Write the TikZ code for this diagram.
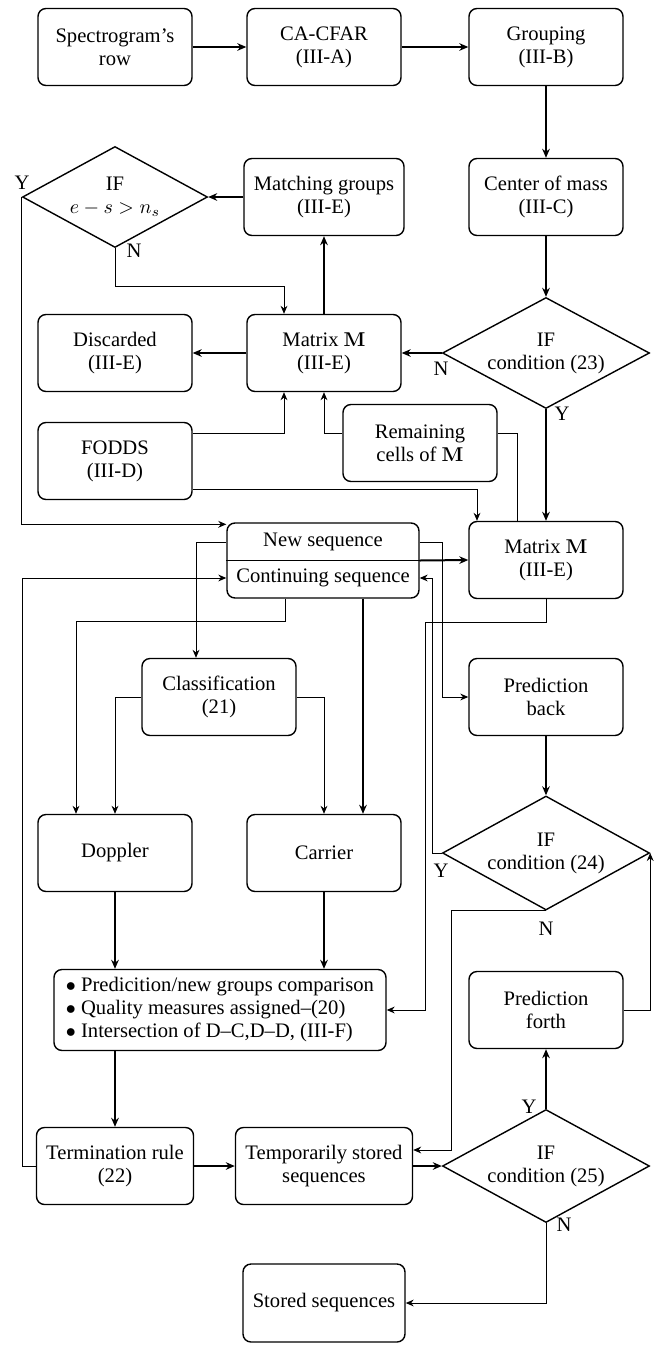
\documentclass[tikz,border=0pt]{standalone}
\usepackage[no-math]{fontspec}
\setmainfont{Liberation Serif}
\usetikzlibrary{shapes.geometric,arrows.meta,calc}
\begin{document}
\begin{tikzpicture}[x=0.5pt,y=-0.5pt,
  box/.style={draw,line width=0.7pt,rounded corners=4pt,minimum width=77pt,minimum height=38.5pt,align=center,inner sep=1pt,font=\fontsize{10.3}{11.5}\selectfont},
  dia/.style={draw,line width=0.7pt,diamond,inner sep=0pt},
  txt/.style={align=center,font=\fontsize{10.3}{11.5}\selectfont,inner sep=0pt},
  lab/.style={font=\fontsize{10.3}{11.5}\selectfont,inner sep=0pt},
  tarr/.style={line width=0.5pt,-{Stealth[length=4pt,width=3.4pt]}},
  Tarr/.style={line width=1pt,-{Stealth[length=4.5pt,width=3.8pt]}},
  tline/.style={line width=0.5pt},
]
\useasboundingbox (0,0) rectangle (661,1345);

% lanes
\coordinate (L21) at (22,0);
\coordinate (L76) at (76,0);
\coordinate (L197) at (196,0);
\coordinate (L284) at (284,0);
\coordinate (L285) at (285,0);
\coordinate (L363) at (363,0);
\coordinate (L425) at (425,0);
\coordinate (L432) at (432,0);
\coordinate (L442) at (442,0);
\coordinate (L451) at (451,0);
\coordinate (L476) at (477,0);
\coordinate (L516) at (517,0);

% nodes
\node[box] (spec) at (115,47) {Spectrogram’s\\row};
\node[box] (cfar) at (324,47) {CA-CFAR\\(III-A)};
\node[box] (grp) at (546,47) {Grouping\\(III-B)};

\node[dia,minimum width=92.5pt,minimum height=50.5pt] (dif) at (115,197) {};
\node[txt] (diftxt) at (115,197) {IF\\$e-s>n_s$};
\node[box,minimum width=80pt] (mg) at (324,197) {Matching groups\\(III-E)};
\node[box] (com) at (546,197) {Center of mass\\(III-C)};

\node[box] (disc) at (115,353) {Discarded\\(III-E)};
\node[box] (mm1) at (324,353) {Matrix $\mathbf{M}$\\(III-E)};
\node[dia,minimum width=103.5pt,minimum height=55.5pt] (d23) at (546,353) {};
\node[txt] (d23txt) at (546,353) {IF\\condition (23)};

\node[box] (fodds) at (115,461) {FODDS\\(III-D)};
\node[box] (rem) at (420,443) {Remaining\\cells of $\mathbf{M}$};

\node[box,minimum width=96pt,minimum height=37.5pt] (seq) at (323,560.5) {};
\node[txt] (newseq) at (323,542) {New sequence};
\node[txt] (contseq) at (323,578) {Continuing sequence};
\node[box] (mm2) at (546,560) {Matrix $\mathbf{M}$\\(III-E)};

\node[box] (cls) at (219,697) {Classification\\(21)};
\node[box] (pb) at (546,697) {Prediction\\back};

\node[box] (dop) at (115,853) {Doppler};
\node[box] (car) at (324,853) {Carrier};
\node[dia,minimum width=103.5pt,minimum height=57pt] (d24) at (546,853) {};
\node[txt] (d24txt) at (546,853) {IF\\condition (24)};

\node[box,minimum width=166pt,minimum height=40.5pt,align=left] (bul) at (220,1010) {$\bullet$ Predicition/new groups comparison\\$\bullet$ Quality measures assigned--(20)\\$\bullet$ Intersection of D--C,D--D, (III-F)};
\node[box] (pf) at (546,1010) {Prediction\\forth};

\node[box,minimum width=78.5pt] (term) at (115,1166) {Termination rule\\(22)};
\node[box,minimum width=88.5pt] (tmp) at (324,1166) {Temporarily stored\\sequences};
\node[dia,minimum width=103.5pt,minimum height=56.5pt] (d25) at (546,1166) {};
\node[txt] (d25txt) at (546,1166) {IF\\condition (25)};

\node[box,minimum width=81pt,minimum height=39pt] (sto) at (324,1303) {Stored sequences};

\draw[line width=0.7pt] (seq.west) -- (seq.east);

% labels
\node[lab] (ydif) at (22,183) {Y};
\node[lab] (ndif) at (134,251) {N};
\node[lab] (n23) at (441,369) {N};
\node[lab] (y23) at (562,414) {Y};
\node[lab] (y24) at (441,871) {Y};
\node[lab] (n24) at (546,929) {N};
\node[lab] (y25) at (529,1107) {Y};
\node[lab] (n25) at (564,1225) {N};

% thick connectors
\draw[Tarr] (spec) -- (cfar);
\draw[Tarr] (cfar) -- (grp);
\draw[Tarr] (grp) -- (com);
\draw[Tarr] (com) -- (d23);
\draw[Tarr] (d23.west) -- (mm1.east);
\draw[Tarr] (d23.south) -- (mm2.north);
\draw[Tarr] (mm1.west) -- (disc.east);
\draw[Tarr] (mm1.north) -- (mg.south);
\draw[Tarr] (mg.west) -- (dif.east);
\draw[Tarr] (seq.east) -- (mm2.west);
\draw[Tarr] (seq.south -| L363) -- (car.north -| L363);
\draw[Tarr] (dop.south) -- (bul.north -| dop.south);
\draw[Tarr] (car.south) -- (bul.north -| car.south);
\draw[Tarr] (pb.south) -- (d24.north);
\draw[Tarr] (bul.south -| term.north) -- (term.north);
\draw[Tarr] (term.east) -- (tmp.west);
\draw[Tarr] (tmp.east) -- (d25.west);
\draw[Tarr] (d25.north) -- (pf.south);

% thin connectors
\draw[tarr] (dif.south) -- ++(0,38) -| (mm1.north -| L284);
\draw[tarr] (dif.west) |- ([yshift=-1pt]seq.north west);
\draw[tarr] ([yshift=14pt]fodds.east) -| (mm1.south -| L284);
\draw[tarr] ([yshift=5pt]rem.west) -| (mm1.south);
\draw[tarr] ([yshift=-14pt]fodds.east) -| (mm2.north -| L476);
\draw[tline] ([yshift=5pt]rem.east) -| (mm2.north -| L516);
\draw[tarr] (seq.east |- newseq) -| (pb.west -| L442) -- (pb.west);
\draw[tarr] (seq.west |- newseq) -| (cls.north -| L197);
\draw[tarr] (d24.west) -- (d24.west -| L432) |- (seq.east |- contseq);
\draw[tarr] (mm2.south) -- ++(0,23) -| (bul.east -| L425) -- (bul.east);
\draw[tarr] (seq.south -| L285) -- ++(0,23) -| (dop.north -| L76);
\draw[tarr] (cls.west) -| (dop.north);
\draw[tarr] (cls.east) -| (car.north);
\draw[tarr] (d24.south) -| ([yshift=8pt]tmp.east -| L451) -- ([yshift=8pt]tmp.east);
\draw[tarr] (pf.east) -| (d24.east);
\draw[tarr] (term.west) -- (term.west -| L21) |- (seq.west |- contseq);
\draw[tarr] (d25.south) |- (sto.east);
\end{tikzpicture}
\end{document}
